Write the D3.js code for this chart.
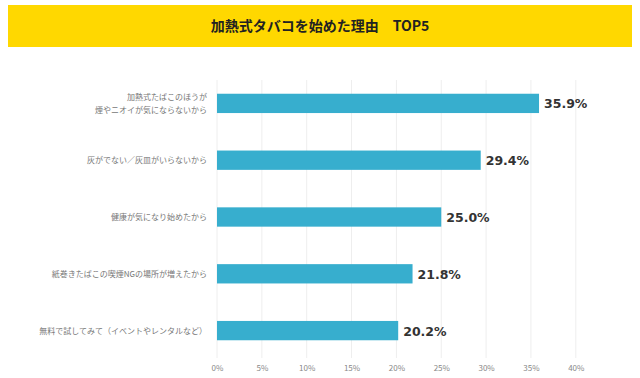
<!DOCTYPE html>
<html>
<head>
<meta charset="utf-8">
<script src="https://cdn.jsdelivr.net/npm/d3@7"></script>
<style>
  body { margin: 0; background: #fff; }
  #chart { width: 640px; height: 378px; }
</style>
</head>
<body>
<div id="chart"></div>
<script>
// chart data
const titleText = "加熱式タバコを始めた理由　TOP5";
const categories = [
    ["加熱式たばこのほうが", "煙やニオイが気にならないから"],
    ["灰がでない／灰皿がいらないから"],
    ["健康が気になり始めたから"],
    ["紙巻きたばこの喫煙NGの場所が増えたから"],
    ["無料で試してみて（イベントやレンタルなど）"]
];
const values = [35.9, 29.4, 25.0, 21.8, 20.2];
const tickValues = [0, 5, 10, 15, 20, 25, 30, 35, 40];

let width = 640, height = 378;
let margin = {top: 75, right: 64, bottom: 28, left: 217};

let svg = d3.select("#chart").append("svg")
    .attr("width", width)
    .attr("height", height);

// title banner
svg.append("rect")
    .attr("x", 8).attr("y", 5)
    .attr("width", 624).attr("height", 42)
    .attr("fill", "#FFD800");

svg.append("text")
    .attr("x", width / 2)
    .attr("y", 31)
    .attr("text-anchor", "middle")
    .style("font-family", "'Noto Sans CJK JP', sans-serif")
    .style("font-weight", "bold")
    .style("font-size", "14px")
    .style("fill", "#222")
    .text(titleText);

let x = d3.scaleLinear()
    .domain([0, 40])
    .range([margin.left, margin.left + 40 * 8.97]);

let y = d3.scaleBand()
    .domain(d3.range(categories.length))
    .range([75, 359])
    .paddingInner(0.66)
    .paddingOuter(0.33);

// gridlines
svg.append("g")
    .selectAll("line")
    .data(tickValues)
    .enter()
    .append("line")
    .attr("x1", d => x(d)).attr("x2", d => x(d))
    .attr("y1", 80).attr("y2", 358)
    .attr("stroke", "#eeeeee")
    .attr("stroke-width", 1);

// x axis
let xAxis = d3.axisBottom(x)
    .tickValues(tickValues)
    .tickFormat(d => d + "%")
    .tickSize(0);

svg.append("g")
    .attr("transform", "translate(0," + 362 + ")")
    .call(xAxis)
    .call(g => g.select(".domain").remove())
    .selectAll("text")
    .style("font-family", "'Noto Sans CJK JP', sans-serif")
    .style("font-size", "8px")
    .style("fill", "#888");

// bars
svg.append("g")
    .selectAll("rect")
    .data(values)
    .enter()
    .append("rect")
    .attr("x", x(0))
    .attr("y", (d, i) => y(i))
    .attr("width", d => x(d) - x(0))
    .attr("height", y.bandwidth())
    .attr("fill", "#37AECE");

// value labels
svg.append("g")
    .selectAll("text")
    .data(values)
    .enter()
    .append("text")
    .attr("x", d => x(d) + 5)
    .attr("y", (d, i) => y(i) + y.bandwidth() / 2 + 5)
    .text(d => d.toFixed(1) + "%")
    .style("font-family", "'DejaVu Sans', sans-serif")
    .style("font-weight", "bold")
    .style("font-size", "12.5px")
    .style("fill", "#333");

// category labels
let labels = svg.append("g")
    .selectAll("text")
    .data(categories)
    .enter()
    .append("text")
    .attr("text-anchor", "end")
    .attr("x", 207)
    .attr("y", (d, i) => y(i) + y.bandwidth() / 2 + 3 - (d.length - 1) * 6.5)
    .style("font-family", "'Noto Sans CJK JP', sans-serif")
    .style("font-size", "8px")
    .style("fill", "#777");

labels.selectAll("tspan")
    .data(d => d)
    .enter()
    .append("tspan")
    .attr("x", 207)
    .attr("dy", (d, i) => i === 0 ? 0 : 13)
    .text(d => d);
</script>
</body>
</html>
